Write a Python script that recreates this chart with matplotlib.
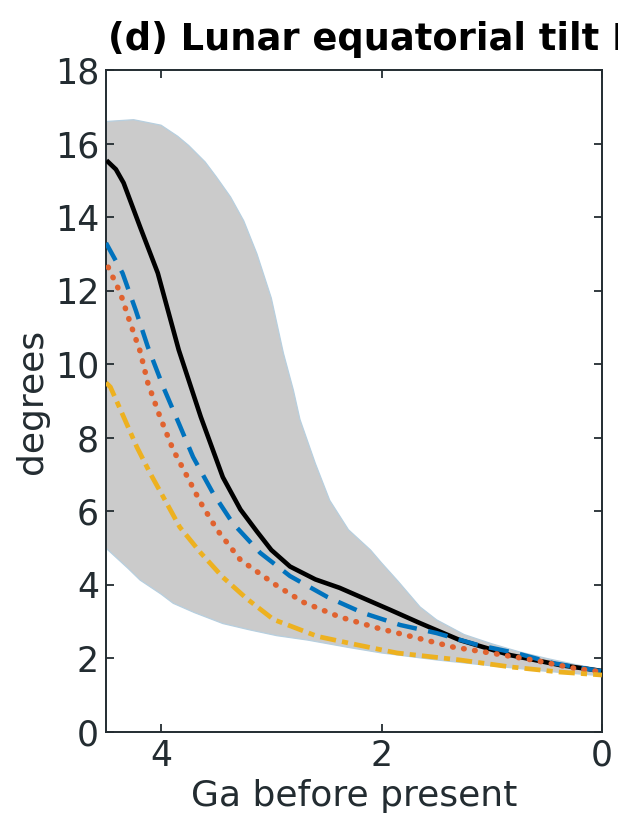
#!/usr/bin/env python3
"""
plot.py
=======
Lunar equatorial tilt over time: ensemble spread (grey) plus four
reference runs, x axis running backwards from 4.5 Ga to today.
"""

import matplotlib
matplotlib.use('Agg')
import matplotlib.pyplot as plt

# ensemble envelope (grey band)
hi_x = [4.5, 4.25, 4.0, 3.85, 3.75, 3.6, 3.5, 3.37, 3.25, 3.13, 3.0, 2.89,
        2.8, 2.74, 2.6, 2.47, 2.3, 2.1, 2.0, 1.85, 1.65, 1.5, 1.25, 1.0,
        0.75, 0.5, 0.25, 0.0]
hi_y = [16.6, 16.65, 16.5, 16.2, 15.95, 15.5, 15.1, 14.55, 13.9, 13.0, 11.8,
        10.3, 9.3, 8.5, 7.3, 6.3, 5.5, 4.95, 4.6, 4.1, 3.4, 3.05, 2.65, 2.4,
        2.18, 2.0, 1.84, 1.7]
lo_x = [4.5, 4.3, 4.19, 4.0, 3.89, 3.7, 3.44, 3.2, 2.95, 2.67, 2.3, 2.0,
        1.5, 1.0, 0.5, 0.0]
lo_y = [5.0, 4.45, 4.13, 3.75, 3.5, 3.25, 2.95, 2.78, 2.62, 2.5, 2.3, 2.15,
        1.96, 1.8, 1.65, 1.53]

# black solid run
black_x = [4.48, 4.41, 4.34, 4.19, 4.03, 3.84, 3.64, 3.44, 3.28, 3.13, 3.0,
           2.83, 2.6, 2.38, 1.92, 1.65, 1.29, 0.83, 0.38, 0.0]
black_y = [15.5, 15.3, 14.93, 13.73, 12.48, 10.39, 8.57, 6.93, 6.05, 5.45,
           4.95, 4.5, 4.15, 3.92, 3.32, 2.96, 2.5, 2.09, 1.82, 1.66]

# blue dashed run
blue_x = [4.5, 4.35, 4.23, 4.12, 3.98, 3.84, 3.71, 3.53, 3.35, 3.1, 2.83,
          2.49, 2.17, 1.83, 1.5, 1.13, 0.77, 0.44, 0.0]
blue_y = [13.3, 12.48, 11.47, 10.47, 9.38, 8.4, 7.48, 6.5, 5.68, 4.87, 4.24,
          3.67, 3.24, 2.91, 2.69, 2.37, 2.14, 1.87, 1.65]

# orange dotted run
orange_x = [4.48, 4.37, 4.28, 4.19, 4.12, 4.01, 3.89, 3.76, 3.64, 3.49,
            3.28, 2.95, 2.71, 2.38, 2.04, 1.68, 1.35, 0.99, 0.63, 0.26, 0.0]
orange_y = [12.64, 11.94, 11.12, 10.35, 9.49, 8.57, 7.67, 6.93, 6.23, 5.49,
            4.68, 3.98, 3.53, 3.13, 2.83, 2.56, 2.31, 2.14, 1.96, 1.74, 1.63]

# yellow dash-dot run
yellow_x = [4.5, 4.46, 4.34, 4.22, 4.10, 3.98, 3.83, 3.64, 3.44, 3.22,
            2.98, 2.58, 2.22, 1.86, 1.29, 0.83, 0.38, 0.0]
yellow_y = [9.5, 9.38, 8.57, 7.75, 7.04, 6.39, 5.57, 4.87, 4.21, 3.62,
            3.06, 2.6, 2.37, 2.15, 1.96, 1.77, 1.63, 1.55]

x_ticks = [4, 2, 0]
y_ticks = [0, 2, 4, 6, 8, 10, 12, 14, 16, 18]

INK = '#232c31'


def main():
    fig = plt.figure(figsize=(6.18, 8.25), dpi=100)
    ax = fig.add_axes([0.1715, 0.1127, 0.8025, 0.8024])

    # grey ensemble band with faint bluish edge runs
    band_x = hi_x + lo_x[::-1]
    band_y = hi_y + lo_y[::-1]
    ax.fill(band_x, band_y, color='#cbcbcb', lw=0, zorder=1)
    ax.plot(hi_x, hi_y, color='#b7cfdf', lw=0.9, zorder=1.5)
    ax.plot(lo_x, lo_y, color='#b7cfdf', lw=0.9, zorder=1.5)

    ax.plot(black_x, black_y, color='black', lw=3.3, zorder=3)
    ax.plot(blue_x, blue_y, color='#0072BD', lw=3.2, zorder=4,
            dashes=(4.5, 2.6))
    ax.plot(orange_x, orange_y, color='#E0622F', lw=4.0, zorder=5,
            dashes=(0.1, 1.9), dash_capstyle='round')
    ax.plot(yellow_x, yellow_y, color='#EDB120', lw=3.4, zorder=6,
            dashes=(3.4, 1.3, 1.3, 1.3))

    ax.set_xlim(4.5, 0)
    ax.set_ylim(0, 18)
    ax.set_xticks(x_ticks)
    ax.set_yticks(y_ticks)
    ax.tick_params(direction='in', length=6, width=1.3, top=True,
                   right=True, labelsize=25, colors=INK, pad=5)
    for sp in ax.spines.values():
        sp.set_color(INK)
        sp.set_linewidth(1.4)

    ax.set_xlabel('Ga before present', fontsize=26, color=INK, labelpad=4)
    ax.set_ylabel('degrees', fontsize=26, color=INK, labelpad=4)

    fig.text(0.175, 0.94, '(d) Lunar equatorial tilt I', fontsize=26.5,
             fontweight='bold', color='black', ha='left', va='baseline')

    fig.savefig('out.png', dpi=100)
    plt.close(fig)


if __name__ == "__main__":
    main()
